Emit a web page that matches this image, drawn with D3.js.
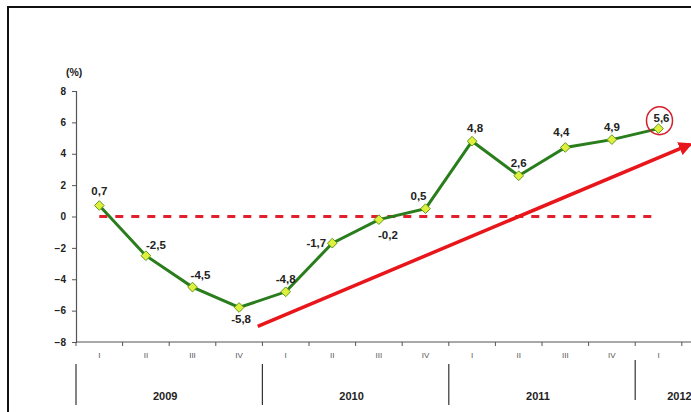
<!DOCTYPE html>
<html>
<head>
<meta charset="utf-8">
<script src="https://cdn.jsdelivr.net/npm/d3@7"></script>
<style>
  body { margin: 0; background: #fff; }
  text { font-family: "Liberation Sans", Arial, sans-serif; }
</style>
</head>
<body>
<div id="chart"></div>
<script>
// quarterly growth, %
const quarters = ["I", "II", "III", "IV", "I", "II", "III", "IV", "I", "II", "III", "IV", "I"]
const years = ["2009", "2010", "2011", "2012"]
const values = [0.7, -2.5, -4.5, -5.8, -4.8, -1.7, -0.2, 0.5, 4.8, 2.6, 4.4, 4.9, 5.6]
const yTicks = [-8, -6, -4, -2, 0, 2, 4, 6, 8]
// trend arrow, in (quarter index, value)
const trendStart = [3.4, -7.0]
const trendEnd = [12.68, 4.6]

const W = 691, H = 412
const svg = d3.select("#chart").append("svg")
    .attr("width", W).attr("height", H)

// frame
svg.append("rect")
    .attr("x", 8).attr("y", 7)
    .attr("width", 720).attr("height", 430)
    .attr("fill", "none").attr("stroke", "#111").attr("stroke-width", 2)

const left = 76, step = 46.6
const xBand = d3.scaleBand()
    .domain(d3.range(14))
    .range([left, left + 14 * step])
    .padding(0)
const xc = i => xBand(0) + (i + 0.5) * xBand.bandwidth()
const y = d3.scaleLinear().domain([-8, 8]).range([342, 91])

// y axis
const yAxis = svg.append("g")
    .attr("transform", `translate(${left},0)`)
    .call(d3.axisLeft(y).tickValues(yTicks).tickSize(4).tickPadding(6))
yAxis.select(".domain").attr("stroke", "#555").attr("stroke-width", 1.2)
yAxis.selectAll(".tick line").attr("stroke", "#555")
yAxis.selectAll("text")
    .attr("font-size", 10).attr("font-weight", "bold").attr("fill", "#222")
    .style("font-family", "'Liberation Sans', Arial, sans-serif")

svg.append("text")
    .attr("x", 66).attr("y", 76)
    .attr("font-size", 10.5).attr("font-weight", "bold").attr("fill", "#222")
    .text("(%)")

// x axis
svg.append("line")
    .attr("x1", left).attr("x2", W)
    .attr("y1", y(-8)).attr("y2", y(-8))
    .attr("stroke", "#555").attr("stroke-width", 1.2)
svg.selectAll(".xtick")
    .data(d3.range(15))
    .enter().append("line")
    .attr("x1", d => left + d * step).attr("x2", d => left + d * step)
    .attr("y1", y(-8)).attr("y2", y(-8) + 4)
    .attr("stroke", "#555")
svg.selectAll(".qlab")
    .data(quarters)
    .enter().append("text")
    .attr("x", (d, i) => xc(i))
    .attr("y", 358)
    .attr("text-anchor", "middle")
    .attr("font-size", 8).attr("fill", "#555")
    .text(d => d)

// year separators + labels
const sepX = [0, 4, 8, 12].map(i => left + i * step)
svg.selectAll(".sep")
    .data(sepX)
    .enter().append("line")
    .attr("x1", d => d).attr("x2", d => d)
    .attr("y1", (d, i) => i == 3 ? 360 : 364)
    .attr("y2", (d, i) => i == 3 ? 400 : 405)
    .attr("stroke", "#333").attr("stroke-width", 1.2)
svg.selectAll(".year")
    .data(years)
    .enter().append("text")
    .attr("x", (d, i) => i < 3 ? sepX[i] + 2 * step - 4 : sepX[3] + 32)
    .attr("y", 400)
    .attr("text-anchor", (d, i) => i < 3 ? "middle" : "start")
    .attr("font-size", 11).attr("font-weight", "bold").attr("fill", "#222")
    .text(d => d)

// zero line
svg.append("line")
    .attr("x1", xc(0)).attr("x2", xc(12) - 4)
    .attr("y1", y(0)).attr("y2", y(0))
    .attr("stroke", "#e0202a").attr("stroke-width", 3)
    .attr("stroke-dasharray", "8,8")

// trend arrow
svg.append("defs").append("marker")
    .attr("id", "arrow")
    .attr("viewBox", "0 0 10 10")
    .attr("refX", 8).attr("refY", 5)
    .attr("markerWidth", 4).attr("markerHeight", 4)
    .attr("orient", "auto")
    .append("path").attr("d", "M0,0 L10,5 L0,10 z").attr("fill", "#e8161b")
svg.append("line")
    .attr("x1", xc(trendStart[0])).attr("y1", y(trendStart[1]))
    .attr("x2", xc(trendEnd[0])).attr("y2", y(trendEnd[1]))
    .attr("stroke", "#e8161b").attr("stroke-width", 3.5)
    .attr("marker-end", "url(#arrow)")

// series
const line = d3.line().x((d, i) => xc(i)).y(d => y(d))
svg.append("path")
    .datum(values)
    .attr("d", line)
    .attr("fill", "none").attr("stroke", "#2a7d1c").attr("stroke-width", 3)

svg.selectAll(".pt")
    .data(values)
    .enter().append("path")
    .attr("d", d3.symbol(d3.symbolDiamond2, 60))
    .attr("transform", (d, i) => `translate(${xc(i)},${y(d)})`)
    .attr("fill", "#dff03c").attr("stroke", "#5f9a20").attr("stroke-width", 1)

// label offsets [dx, dy]
const offs = [[0, -11], [10, -7], [8, -8], [2, 16], [0, -9], [-16, 4], [9, 19], [-7, -9],
    [3, -9], [0, -9], [-4, -11], [0, -9], [3, -7]]
svg.selectAll(".vlab")
    .data(values)
    .enter().append("text")
    .attr("x", (d, i) => xc(i) + offs[i][0])
    .attr("y", (d, i) => y(d) + offs[i][1])
    .attr("text-anchor", "middle")
    .attr("font-size", 11.5).attr("font-weight", "bold").attr("fill", "#222")
    .text(d => String(d).replace(".", ","))

// highlight last value
svg.append("ellipse")
    .attr("cx", xc(12) + 1).attr("cy", y(5.6) - 8)
    .attr("rx", 13).attr("ry", 14)
    .attr("fill", "none").attr("stroke", "#d4202a").attr("stroke-width", 1.5)
</script>
</body>
</html>
